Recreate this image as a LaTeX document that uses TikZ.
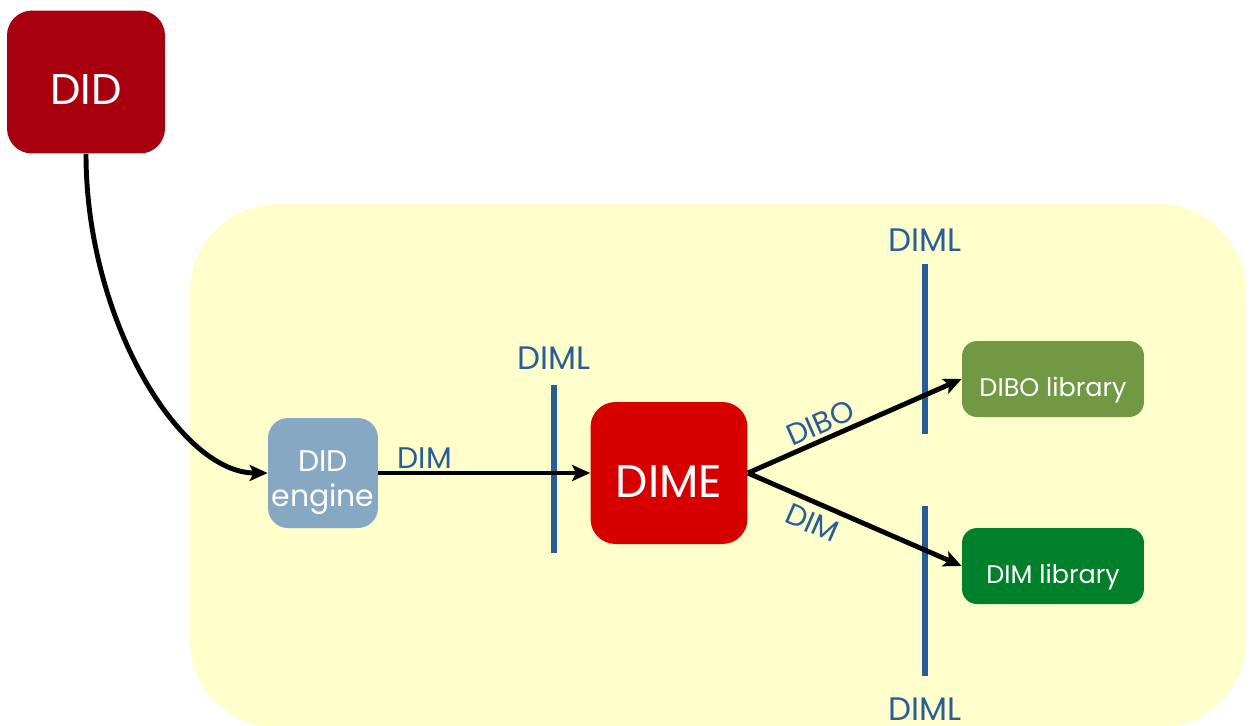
\documentclass[tikz,border=0pt]{standalone}
\usepackage{fontspec}
\setmainfont{Poppins}
\usetikzlibrary{arrows.meta}
\definecolor{didred}{HTML}{A8000F}
\definecolor{dimered}{HTML}{D60000}
\definecolor{engblue}{HTML}{87A8C3}
\definecolor{dibogreen}{HTML}{719944}
\definecolor{dimgreen}{HTML}{00802B}
\definecolor{lineblue}{HTML}{285D9A}
\definecolor{bgyellow}{HTML}{FFFFCC}
\begin{document}
\begin{tikzpicture}[x=0.02cm, y=-0.02cm,
 box/.style={rounded corners=0.5cm, text=white, align=center, inner sep=0pt},
 lib/.style={box, fill=#1, rounded corners=0.3cm, minimum width=3.64cm, minimum height=1.52cm, text height=19.6pt, text depth=0pt, font=\fontsize{14.5}{17}\selectfont},
 wall/.style={lineblue, line width=3pt},
 lbl/.style={text=lineblue, font=\fontsize{17}{20}\selectfont, inner sep=1pt},
 diml/.style={lbl, font=\fontsize{18.5}{20}\selectfont},
 flow/.style={->, line width=2.8pt},
 >={Stealth[length=3.6mm, width=3.2mm, inset=0.8mm]}]
\useasboundingbox (0,0) rectangle (1254,725);
\fill[bgyellow, rounded corners=1.76cm] (190,204) rectangle (1246,728);
\node[box, fill=didred, minimum width=3.16cm, minimum height=2.86cm, text height=25.5pt, text depth=0pt, font=\fontsize{24.5}{30}\selectfont] (did) at (86,82) {DID};
\node[box, fill=engblue, rounded corners=0.4cm, minimum width=2.2cm, minimum height=2.2cm, text height=40.6pt, text depth=2pt, font=\fontsize{17}{20}\selectfont] (engine) at (323,473) {DID\\engine};
\node[box, fill=dimered, minimum width=3.14cm, minimum height=2.84cm, text height=27.6pt, text depth=0pt, font=\fontsize{26}{30}\selectfont] (dime) at (669,473) {DIME};
\node[lib=dibogreen] (dibo) at (1053,379) {DIBO library};
\node[lib=dimgreen] (dimlib) at (1053,566) {DIM library};
\coordinate (w1t) at (554,385);
\coordinate (w1b) at (554,553);
\coordinate (w2t) at (925,264);
\coordinate (w2b) at (925,434);
\coordinate (w3t) at (925,506);
\coordinate (w3b) at (925,676);
\draw[wall] (w1t) -- (w1b);
\draw[wall] (w2t) -- (w2b);
\draw[wall] (w3t) -- (w3b);
\node[diml, anchor=south] (diml1) at (w1t) [yshift=0.27cm] {DIML};
\node[diml, anchor=south] (diml2) at (w2t) [yshift=0.2cm] {DIML};
\node[diml, anchor=north] (diml3) at (w3b) [yshift=-0.4cm] {DIML};
\draw[flow] (did.south) .. controls (86,320) and (180,473) .. (engine.west);
\draw[flow] (engine.east) -- node[lbl, pos=0.22, above] (dimlbl) {DIM} (dime.west);
\draw[flow] (dime.east) -- node[lbl, pos=0.37, above, sloped, inner sep=2pt] (dibolbl) {DIBO} (dibo.west);
\draw[flow] (dime.east) -- node[lbl, pos=0.34, below, sloped, inner sep=4pt] (dimlbl2) {DIM} (dimlib.west);
\end{tikzpicture}
\end{document}
